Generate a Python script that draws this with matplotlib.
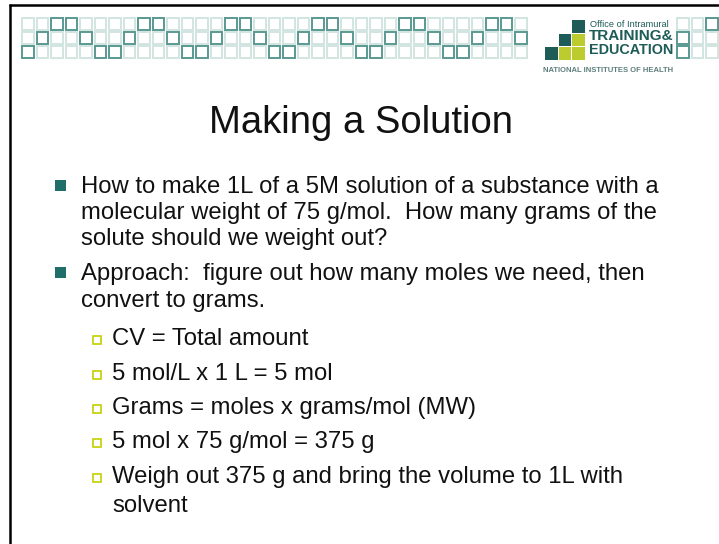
import matplotlib
matplotlib.use("Agg")
import matplotlib.pyplot as plt
from matplotlib.patches import Rectangle

plt.rcParams['font.family'] = ['Liberation Sans', 'DejaVu Sans']

# --- slide content ---
title = "Making a Solution"

main_lines = [
    "How to make 1L of a 5M solution of a substance with a",
    "molecular weight of 75 g/mol.  How many grams of the",
    "solute should we weight out?",
    "Approach:  figure out how many moles we need, then",
    "convert to grams.",
]
main_baselines = [193, 219, 245, 280, 307]
main_bullet_rows = [0, 3]          # lines that carry a bullet

sub_lines = [
    "CV = Total amount",
    "5 mol/L x 1 L = 5 mol",
    "Grams = moles x grams/mol (MW)",
    "5 mol x 75 g/mol = 375 g",
    "Weigh out 375 g and bring the volume to 1L with",
    "solvent",
]
sub_baselines = [345, 380, 414, 448, 483, 512]
sub_bullet_rows = [0, 1, 2, 3, 4]

# header pattern: dark cells per 6-column period, by row
pattern_dark = {0: [2, 3], 1: [1, 4], 2: [0, 5]}
right_dark = [(0, 2), (1, 0), (2, 0)]

# logo stair cells (row, col, colour key)
logo_cells = [(0, 2, 'd'), (1, 1, 'd'), (1, 2, 'l'), (2, 0, 'd'), (2, 1, 'l'), (2, 2, 'l')]

TEAL = '#206e69'
LOGO_DARK = '#1d5c57'
LIME = '#bccb2e'
SQ_LIGHT = '#d2e5e1'
SQ_DARK = '#5a9992'

W, H = 719, 544
fig = plt.figure(figsize=(W / 100, H / 100), dpi=100)
ax = fig.add_axes([0, 0, 1, 1])
ax.set_xlim(0, W)
ax.set_ylim(H, 0)
ax.axis('off')

# frame lines (top and left)
ax.plot([9, W], [5, 5], color='black', lw=1.8, solid_capstyle='butt')
ax.plot([10, 10], [4, H], color='black', lw=1.8, solid_capstyle='butt')

# header squares
pitch, size = 14.5, 11.5
row_y = [18, 32, 46]


def square(x, y, dark):
    ax.add_patch(Rectangle((x, y), size, size, fill=False,
                           edgecolor=SQ_DARK if dark else SQ_LIGHT,
                           lw=1.4, zorder=3 if dark else 2))


for c in range(35):
    for r in range(3):
        square(22 + c * pitch, row_y[r], (c % 6) in pattern_dark[r])

for c in range(3):
    for r in range(3):
        square(677 + c * pitch, row_y[r], (r, c) in right_dark)

# logo
for r, c, k in logo_cells:
    ax.add_patch(Rectangle((545 + c * 13.5, 20 + r * 13.5), 12.5, 12.5,
                           color=LOGO_DARK if k == 'd' else LIME, lw=0))
ax.text(590, 27, "Office of Intramural", fontsize=6.7, color=LOGO_DARK, va='baseline')
ax.text(589, 40.5, "TRAINING&", fontsize=11.0, fontweight='bold', color=LOGO_DARK, va='baseline')
ax.text(589, 53.5, "EDUCATION", fontsize=10.4, fontweight='bold', color=LOGO_DARK, va='baseline')
ax.text(543, 71.5, "NATIONAL INSTITUTES OF HEALTH", fontsize=5.5, fontweight='bold',
        color='#5d7f7c', va='baseline')

# title
ax.text(361, 133, title, fontsize=27.5, color='#111111', ha='center', va='baseline')

# main bullets
for i, (line, yb) in enumerate(zip(main_lines, main_baselines)):
    ax.text(81, yb, line, fontsize=17.2, color='#111111', va='baseline')
    if i in main_bullet_rows:
        ax.add_patch(Rectangle((55, yb - 13), 10.5, 10.5, color=TEAL, lw=0))

# sub bullets
for i, (line, yb) in enumerate(zip(sub_lines, sub_baselines)):
    ax.text(112, yb, line, fontsize=17.2, color='#111111', va='baseline')
    if i in sub_bullet_rows:
        ax.add_patch(Rectangle((92.5, yb - 9), 8, 8, fill=False, edgecolor='#c4d000', lw=1.2))

fig.savefig('out.png', dpi=100)
